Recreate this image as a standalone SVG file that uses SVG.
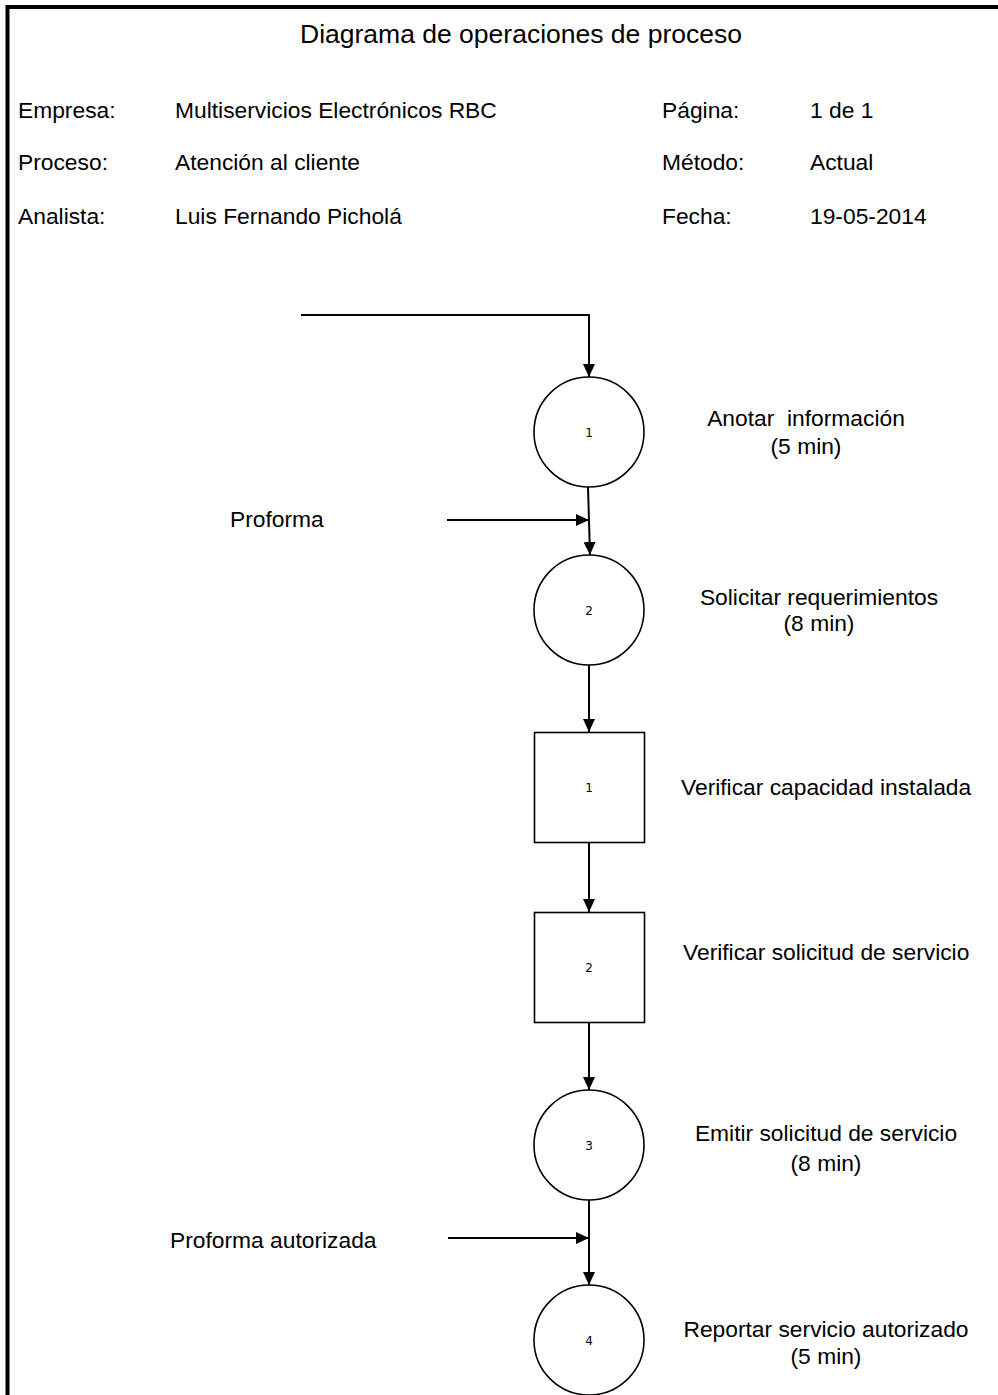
<svg xmlns="http://www.w3.org/2000/svg" width="998" height="1395" viewBox="0 0 998 1395">
  <style>
    .t { font-family: "Liberation Sans", Arial, sans-serif; font-size: 22.8px; fill: #000; }
    .mid { text-anchor: middle; }
    .title { font-family: "Liberation Sans", Arial, sans-serif; font-size: 26.5px; fill: #000; text-anchor: middle; }
    .num { font-family: "DejaVu Sans", sans-serif; font-size: 12px; fill: #000; text-anchor: middle; }
    .shape { fill: #fff; stroke: #000; stroke-width: 1.6; }
    .wire { fill: none; stroke: #000; stroke-width: 2; }
    .frame { fill: none; stroke: #000; stroke-width: 4; }
  </style>
  <defs>
    <marker id="arrow" viewBox="0 0 13 12" refX="13" refY="6" markerWidth="13" markerHeight="12" markerUnits="userSpaceOnUse" orient="auto">
      <path d="M0,0 L13,6 L0,12 Z" fill="#000"/>
    </marker>
  </defs>

  <rect width="998" height="1395" fill="#fff"/>
  <!-- page frame -->
  <path class="frame" d="M7.5,1395 V7 H998"/>

  <!-- header -->
  <g id="header">
    <text class="title" x="521" y="43">Diagrama de operaciones de proceso</text>
    <text class="t" x="18" y="118">Empresa:</text>
    <text class="t" x="175" y="118">Multiservicios Electrónicos RBC</text>
    <text class="t" x="662" y="118">Página:</text>
    <text class="t" x="810" y="118">1 de 1</text>
    <text class="t" x="18" y="170">Proceso:</text>
    <text class="t" x="175" y="170">Atención al cliente</text>
    <text class="t" x="662" y="170">Método:</text>
    <text class="t" x="810" y="170">Actual</text>
    <text class="t" x="18" y="224">Analista:</text>
    <text class="t" x="175" y="224">Luis Fernando Picholá</text>
    <text class="t" x="662" y="224">Fecha:</text>
    <text class="t" x="810" y="224">19-05-2014</text>
  </g>

  <!-- connectors -->
  <g id="connectors">
    <path class="wire" d="M301,315 H589 V377" marker-end="url(#arrow)"/>
    <path class="wire" d="M588,487 L590,555" marker-end="url(#arrow)"/>
    <path class="wire" d="M447,520 H589" marker-end="url(#arrow)"/>
    <path class="wire" d="M589,665 V732" marker-end="url(#arrow)"/>
    <path class="wire" d="M589,843 V912" marker-end="url(#arrow)"/>
    <path class="wire" d="M589,1023 V1090" marker-end="url(#arrow)"/>
    <path class="wire" d="M589,1200 V1285" marker-end="url(#arrow)"/>
    <path class="wire" d="M448,1238 H589" marker-end="url(#arrow)"/>
  </g>

  <!-- operation 1 -->
  <g id="op1">
    <circle class="shape" cx="589" cy="432" r="55"/>
    <text class="num" x="589" y="437">1</text>
    <text class="t mid" x="806" y="426" xml:space="preserve">Anotar  información</text>
    <text class="t mid" x="806" y="454">(5 min)</text>
  </g>

  <text class="t" x="230" y="527">Proforma</text>

  <!-- operation 2 -->
  <g id="op2">
    <circle class="shape" cx="589" cy="610" r="55"/>
    <text class="num" x="589" y="615">2</text>
    <text class="t mid" x="819" y="605">Solicitar requerimientos</text>
    <text class="t mid" x="819" y="631">(8 min)</text>
  </g>

  <!-- inspection 1 -->
  <g id="insp1">
    <rect class="shape" x="534.5" y="732.5" width="110" height="110"/>
    <text class="num" x="589" y="792">1</text>
    <text class="t" x="681" y="795">Verificar capacidad instalada</text>
  </g>

  <!-- inspection 2 -->
  <g id="insp2">
    <rect class="shape" x="534.5" y="912.5" width="110" height="110"/>
    <text class="num" x="589" y="972">2</text>
    <text class="t" x="683" y="960">Verificar solicitud de servicio</text>
  </g>

  <!-- operation 3 -->
  <g id="op3">
    <circle class="shape" cx="589" cy="1145" r="55"/>
    <text class="num" x="589" y="1150">3</text>
    <text class="t mid" x="826" y="1141">Emitir solicitud de servicio</text>
    <text class="t mid" x="826" y="1171">(8 min)</text>
  </g>

  <text class="t" x="170" y="1248">Proforma autorizada</text>

  <!-- operation 4 -->
  <g id="op4">
    <circle class="shape" cx="589" cy="1340" r="55"/>
    <text class="num" x="589" y="1345">4</text>
    <text class="t mid" x="826" y="1337">Reportar servicio autorizado</text>
    <text class="t mid" x="826" y="1364">(5 min)</text>
  </g>
</svg>
